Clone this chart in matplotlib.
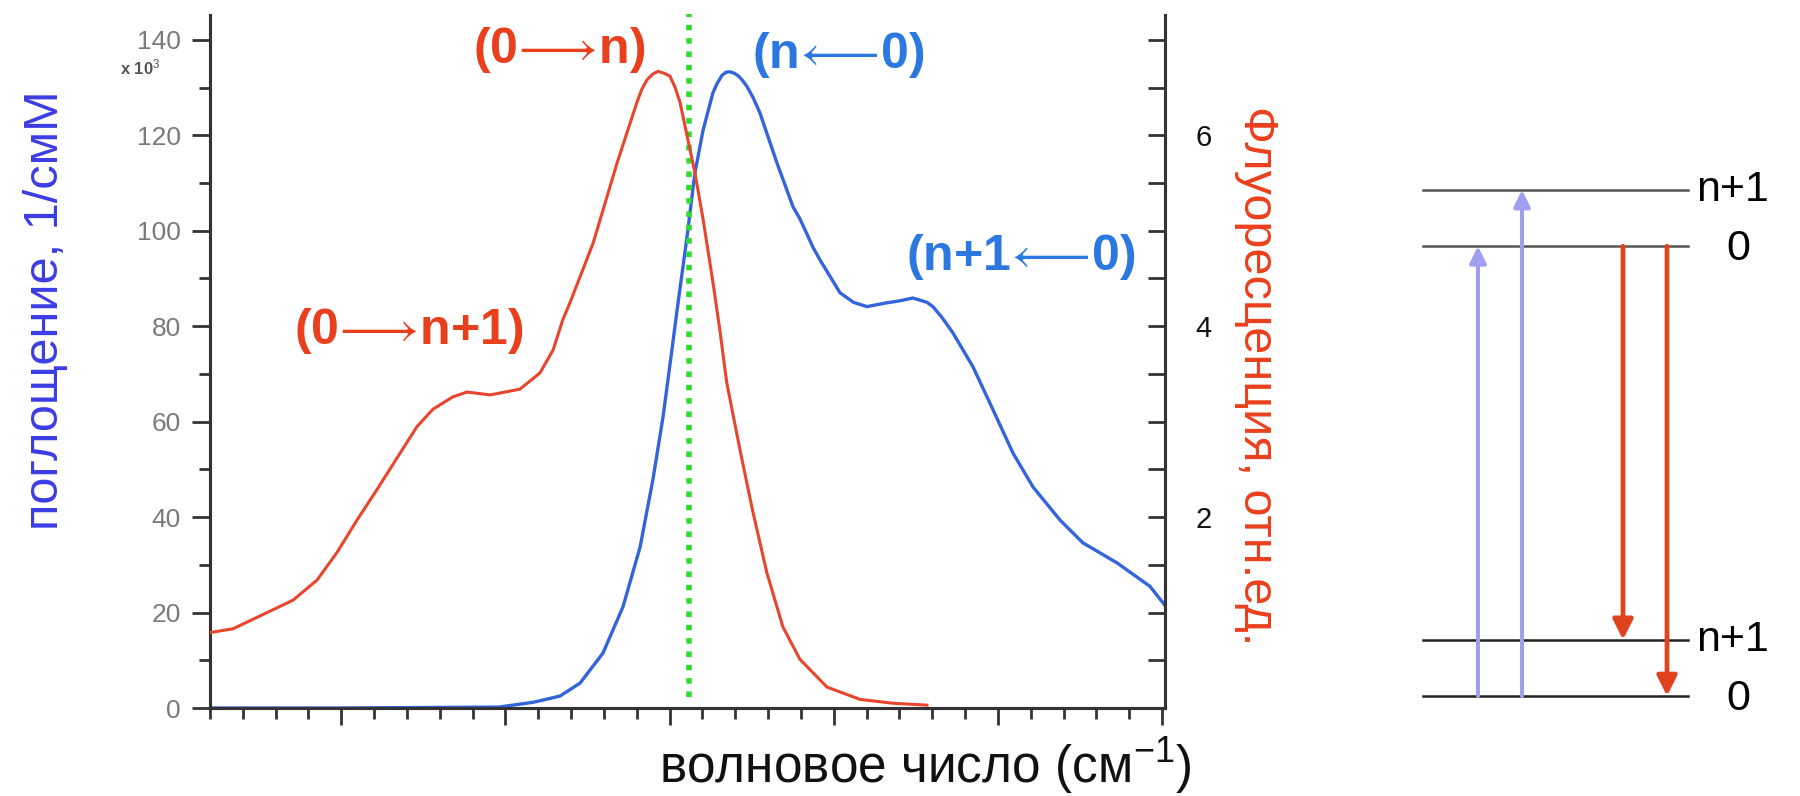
import numpy as np
import matplotlib
matplotlib.use("Agg")
import matplotlib.pyplot as plt
from matplotlib.ticker import MultipleLocator, NullFormatter

plt.rcParams['font.family'] = ['Liberation Sans', 'DejaVu Sans']
plt.rcParams['mathtext.fontset'] = 'custom'
plt.rcParams['mathtext.rm'] = 'Liberation Sans'
plt.rcParams['mathtext.it'] = 'Liberation Sans:italic'
plt.rcParams['mathtext.bf'] = 'Liberation Sans:bold'
plt.rcParams['mathtext.fallback'] = 'stixsans'

# absorption spectrum (x10^3 1/смМ) vs wavenumber (arb. units)
abs_x = [0.0, 4.0, 8.8, 9.85, 10.66, 11.27, 11.97, 12.58, 13.10, 13.49, 13.80,
         14.07, 14.22, 14.53, 14.77, 15.02, 15.32, 15.45, 15.60, 15.72, 15.84,
         15.97, 16.10, 16.23, 16.36, 16.55, 16.75, 17.27, 17.76, 17.97, 18.37,
         18.58, 19.19, 19.60, 20.01, 20.62, 21.00, 21.41, 21.84, 22.02, 22.30,
         22.63, 23.24, 23.85, 24.46, 25.07, 25.89, 26.59, 27.63, 28.63, 29.09]
abs_y = [0.0, 0.0, 0.2, 1.2, 2.5, 5.2, 11.5, 21.2, 33.7, 47.8, 61.0,
         75.0, 83.0, 98.7, 112.1, 121.1, 128.9, 130.9, 132.6, 133.2, 133.3,
         133.0, 132.4, 131.4, 130.2, 127.8, 124.7, 114.2, 105.0, 102.5, 96.5,
         93.9, 87.0, 85.0, 84.1, 84.9, 85.3, 85.9, 85.0, 84.1, 81.8,
         78.6, 71.5, 62.5, 53.4, 46.3, 39.4, 34.6, 30.4, 25.5, 21.5]

# fluorescence spectrum (rel. units)
fl_x = [0.0, 0.7, 1.74, 2.53, 3.26, 3.87, 4.48, 5.09, 5.79, 6.31, 6.79, 7.40,
        7.83, 8.53, 9.44, 10.05, 10.45, 10.75, 10.97, 11.67, 12.40, 13.00,
        13.15, 13.31, 13.48, 13.65, 13.83, 14.01, 14.17, 14.32, 14.56, 14.77,
        15.02, 15.32, 15.53, 15.74, 16.14, 16.54, 16.96, 17.45, 17.97, 18.79,
        19.80, 20.80, 21.84]
fl_y = [0.79, 0.83, 1.00, 1.13, 1.34, 1.63, 1.97, 2.29, 2.67, 2.95, 3.13, 3.26,
        3.31, 3.28, 3.34, 3.51, 3.75, 4.07, 4.25, 4.87, 5.71, 6.34,
        6.48, 6.58, 6.64, 6.67, 6.65, 6.62, 6.50, 6.34, 5.95, 5.61,
        5.12, 4.46, 3.96, 3.41, 2.71, 2.05, 1.42, 0.85, 0.51, 0.22,
        0.09, 0.05, 0.03]

crossing_x = 14.6

# energy level scheme (vibrational quanta)
levels = [0, 1, 8, 9]
level_labels = ["0", "n+1", "0", "n+1"]
absorption = [(0, 8), (0, 9)]
emission = [(8, 1), (8, 0)]

BLUE = '#3464dc'
RED = '#e8452c'
BLUE_TXT = '#2a78e0'
RED_TXT = '#ea3f1c'

fig = plt.figure(figsize=(18, 7.96), dpi=100)
ax = fig.add_axes([210 / 1800, 88 / 796, 955 / 1800, 693 / 796])
axr = ax.twinx()

ax.plot(abs_x, abs_y, color=BLUE, lw=2.4, zorder=3)
axr.plot(fl_x, fl_y, color=RED, lw=2.2, zorder=3)
ax.plot([crossing_x, crossing_x], [2.3, 145.5], color='#2ddc2d', lw=4,
        linestyle=(0, (1, 1.4)), clip_on=False, zorder=4)

ax.set_xlim(0, 29.09)
ax.set_ylim(0, 145.2)
axr.set_ylim(0, 145.2 / 20)

for a in (ax, axr):
    a.spines['top'].set_visible(False)
    for s in a.spines.values():
        s.set_linewidth(2.2)
        s.set_color('#333333')

ax.set_xticks(np.arange(4, 30, 5))
ax.xaxis.set_minor_locator(MultipleLocator(1))
ax.xaxis.set_major_formatter(NullFormatter())
ax.tick_params(axis='x', which='major', direction='out', length=12, width=2, color='#333333')
ax.tick_params(axis='x', which='minor', direction='out', length=8, width=2, color='#333333')

ax.yaxis.set_major_locator(MultipleLocator(20))
ax.yaxis.set_minor_locator(MultipleLocator(10))
ax.tick_params(axis='y', which='major', direction='out', length=13, width=2,
               color='#333333', labelsize=19, labelcolor='#7a7a7a', pad=8)
ax.tick_params(axis='y', which='minor', direction='out', length=8, width=2, color='#333333')

axr.set_yticks([2, 4, 6])
axr.yaxis.set_minor_locator(MultipleLocator(0.5))
axr.tick_params(axis='y', which='major', direction='in', length=12, width=2,
                color='#333333', labelsize=21, labelcolor='#111111', pad=22)
axr.tick_params(axis='y', which='minor', direction='in', length=12, width=2, color='#333333')

fig.text(140 / 1800, 1 - 67 / 796, r'x 10$^3$', fontsize=12, fontweight='bold',
         color='#555555', ha='center', va='center')

annotations = [
    (10.63, 137.9, r'$\mathbf{(0}\!\longrightarrow\!\mathbf{n)}$', RED_TXT),
    (19.13, 136.9, r'$\mathbf{(n}\!\longleftarrow\!\mathbf{0)}$', BLUE_TXT),
    (24.70, 94.5, r'$\mathbf{(n{+}1}\!\longleftarrow\!\mathbf{0)}$', BLUE_TXT),
    (6.05, 79.0, r'$\mathbf{(0}\!\longrightarrow\!\mathbf{n{+}1)}$', RED_TXT),
]
for tx, ty, s, c in annotations:
    ax.text(tx, ty, s, color=c, fontsize=36, ha='center', va='center')

fig.text(46 / 1800, 1 - 310 / 796, 'поглощение, 1/смМ', rotation=90, fontsize=35,
         color='#3c3ce6', ha='center', va='center')
fig.text(1257 / 1800, 1 - 376 / 796, 'Флуоресценция, отн.ед.', rotation=270, fontsize=35,
         color=RED_TXT, ha='center', va='center')
fig.text(925 / 1800, 1 - 766 / 796, 'волновое число (см$^{-1}$)', fontsize=37,
         color='#111111', ha='center', va='center')

# level diagram
axd = fig.add_axes([1423 / 1800, 100 / 796, 265 / 1800, 506 / 796])
axd.set_xlim(0, 1)
axd.set_ylim(0, 9)
axd.axis('off')
for e, lab in zip(levels, level_labels):
    col = '#555555' if e >= 8 else '#222222'
    axd.plot([0, 1], [e, e], color=col, lw=1.8, clip_on=False)
    if lab == '0':
        axd.text(1.19, e - 0.05, lab, fontsize=31, ha='center', va='center')
    else:
        axd.text(1.03, e, lab, fontsize=31, ha='left', va='center')

for xpos, (lo, hi) in zip([0.2075, 0.3736], absorption):
    axd.annotate('', xy=(xpos, hi), xytext=(xpos, lo),
                 arrowprops=dict(arrowstyle='-|>,head_length=0.5,head_width=0.25',
                                 color='#9f9ff0', lw=2.9, mutation_scale=20,
                                 shrinkA=0, shrinkB=0))
for xpos, (hi, lo) in zip([0.7547, 0.9208], emission):
    axd.annotate('', xy=(xpos, lo), xytext=(xpos, hi),
                 arrowprops=dict(arrowstyle='-|>,head_length=0.6,head_width=0.3',
                                 color='#e0421e', lw=3.4, mutation_scale=20,
                                 shrinkA=0, shrinkB=0))

fig.savefig('out.png', dpi=100)
